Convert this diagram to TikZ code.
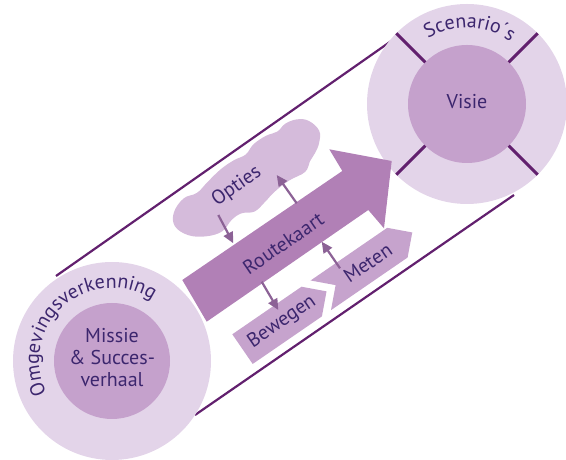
\documentclass[tikz,border=0pt]{standalone}
\usepackage{fontspec}
\setmainfont{PT Sans}
\usetikzlibrary{arrows.meta,decorations.text,calc}
\definecolor{outerc}{RGB}{227,212,233}
\definecolor{innerc}{RGB}{197,161,204}
\definecolor{arrowc}{RGB}{177,128,182}
\definecolor{cloudc}{RGB}{213,187,219}
\definecolor{chevc}{RGB}{198,163,205}
\definecolor{linec}{RGB}{98,32,110}
\definecolor{smallc}{RGB}{140,98,150}
\definecolor{txt}{RGB}{60,38,110}
\begin{document}
\begin{tikzpicture}[x=1pt,y=1pt,
  lbl/.style={text=txt, font=\fontsize{20}{22}\selectfont, inner sep=0pt},
  cyl/.style={draw=linec, line width=2.2pt},
  tickline/.style={draw=linec, line width=3pt},
  smallarr/.style={draw=smallc, line width=2.2pt, -{Triangle[length=11pt,width=10pt]}},
]
\useasboundingbox (0,0) rectangle (566,460);
\coordinate (C1) at (112,99);
\coordinate (C2) at (467,356);
% cylinder lines
\coordinate (t1) at (56,184);
\coordinate (t2) at (397,423);
\coordinate (b1) at (195,45);
\coordinate (b2) at (514,265);
\draw[cyl] (t1) -- (t2);
\draw[cyl] (b1) -- (b2);
% circles
\fill[outerc] (C1) circle[radius=99];
\fill[innerc] (C1) circle[radius=58];
\fill[outerc] (C2) circle[radius=100];
\fill[innerc] (C2) circle[radius=59];
\foreach \a in {45,135,225,315}
  \draw[tickline] ($(C2)+(\a:59)$) -- ($(C2)+(\a:100)$);
% cloud
\begin{scope}[shift={(247.5,280)}, rotate=34.5]
  \fill[cloudc] plot[smooth cycle, tension=0.65] coordinates {
    (-86,3) (-79,15) (-63,21) (-49,18) (-34,21) (-16,24) (0,24) (13,22)
    (25,26) (40,26) (52,23) (63,25) (75,22) (84,14) (87,0) (80,-10)
    (71,-16) (62,-20) (52,-26) (34,-24) (16,-25) (2,-28) (-12,-30)
    (-24,-24) (-36,-24) (-50,-28) (-66,-23) (-80,-12)};
  \coordinate (cloud) at (0,0);
\end{scope}
% main arrow
\fill[arrowc] (182.3,180) -- (342.3,289) -- (329.3,310.7) -- (391.7,299)
  -- (384,231.7) -- (368.3,250) -- (206.7,138.3) -- cycle;
% chevrons
\begin{scope}[shift={(232.3,125.7)}, rotate=34.5]
  \fill[chevc] (0,0) -- (84,0) -- (102,-18) -- (84,-36) -- (0,-36) -- cycle;
  \fill[chevc] (95,0) -- (188,0) -- (206,-18) -- (188,-36) -- (95,-36) -- (113,-18) -- cycle;
  \node[lbl, rotate=34.5] (bew) at (48,-18) {Bewegen};
  \node[lbl, rotate=34.5] (met) at (152,-18) {Meten};
\end{scope}
% small arrows
\coordinate (a1s) at (218.3,245); \coordinate (a1e) at (233.3,216.7);
\coordinate (a2s) at (296.7,256.7); \coordinate (a2e) at (276.7,285);
\coordinate (a3s) at (261.7,178.3); \coordinate (a3e) at (278.3,150);
\coordinate (a4s) at (340,191.7); \coordinate (a4e) at (321.7,218.3);
\draw[smallarr] (a1s) -- (a1e);
\draw[smallarr] (a2s) -- (a2e);
\draw[smallarr] (a3s) -- (a3e);
\draw[smallarr] (a4s) -- (a4e);
% labels
\node[lbl, rotate=34.3] (route) at (283.3,216.7) {Routekaart};
\node[lbl, rotate=35] (opt) at (236.7,273.3) {Opties};
\node[lbl] (vis) at (467,358) {Visie};
\node[lbl, align=center] (mis) at (112,102) {Missie\\\& Succes-\\verhaal};
% curved texts
\path[decorate, decoration={text along path, text align=center, text color=txt,
   text={|\fontsize{20}{20}\selectfont|Omgevingsverkenning}}]
   ($(C1)+(221.5:73)$) arc[start angle=221.5, end angle=41.5, radius=73];
\path[decorate, decoration={text along path, text align=center, text color=txt,
   text={|\fontsize{20}{20}\selectfont|Scenario´s}}]
   ($(C2)+(148:76)$) arc[start angle=148, end angle=28, radius=76];
\end{tikzpicture}
\end{document}
